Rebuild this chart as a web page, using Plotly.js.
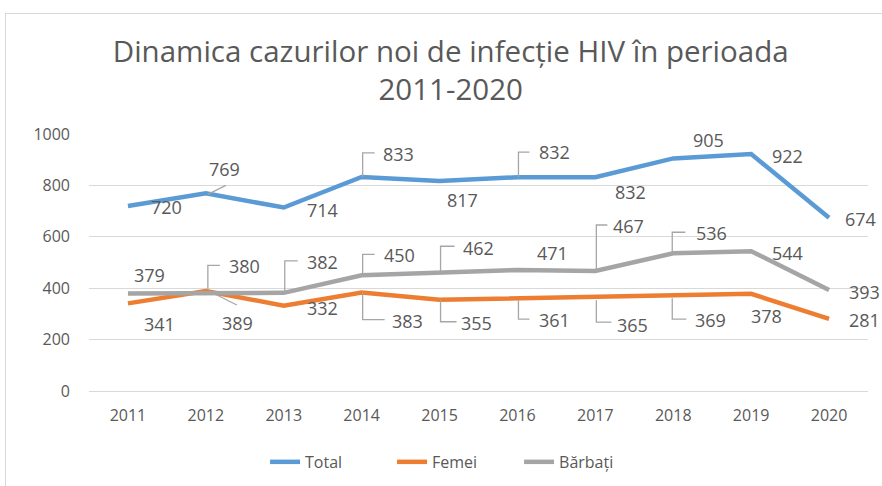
<!DOCTYPE html>
<html>
<head>
<meta charset="utf-8">
<script src="https://cdn.plot.ly/plotly-3.0.1.min.js"></script>
<style>
  html, body { margin: 0; padding: 0; background: #fff; overflow: hidden; }
  #chart { position: absolute; left: 0; top: 0; width: 882px; height: 486px; }
  #frame { position: absolute; left: 5px; top: 13px; width: 900px; height: 500px;
           border-left: 1px solid #d9d9d9; border-top: 1px solid #d9d9d9; pointer-events: none; }
</style>
</head>
<body>
<div id="chart"></div>
<div id="frame"></div>
<script>
// ---- data ----
const years = ['2011','2012','2013','2014','2015','2016','2017','2018','2019','2020'];
const total = [720, 769, 714, 833, 817, 832, 832, 905, 922, 674];
const femei = [341, 389, 332, 383, 355, 361, 365, 369, 378, 281];
const barbati = [379, 380, 382, 450, 462, 471, 467, 536, 544, 393];
const seriesNames = ['Total', 'Femei', 'Bărbați'];
const yTicks = [0, 200, 400, 600, 800, 1000];

// ---- label placement (screen px offsets: dx right, dy down) & leader paths ----
const totalLabelPos = [[39,1],[19,-24],[39,2],[37,-23],[23,19],[37,-25],[35,15],[35,-18],[36,2],[31,1]];
const totalLeaders = {1: [[2,1],[20,-8]], 3: [[1,0],[1,-24],[13,-24]], 5: [[1,0],[1,-25],[12,-25]]};
const barbLabelPos = [[22,-19],[39,-27],[39,-31],[38,-20],[39,-24],[35,-17],[33,-45],[38,-20],[36,2],[35,2]];
const barbLeaders = {1: [[2,-3],[2,-28],[14,-28]], 2: [[1,0],[1,-32],[14,-32]], 3: [[1,-1],[1,-21],[13,-21]],
                     4: [[1,0],[1,-26],[15,-26]], 6: [[1,-1],[1,-46],[12,-46]], 7: [[-1,-1],[-1,-21],[12,-21]]};
const femLabelPos = [[32,21],[32,32],[39,2],[46,28],[37,23],[37,22],[37,28],[37,24],[15,22],[35,1]];
const femLeaders = {1: [[7,2],[31,14]], 3: [[1,0],[1,27],[23,27]], 4: [[1,0],[1,22],[17,22]],
                    5: [[1,2],[1,21],[12,21]], 6: [[1,3],[1,25],[16,25]], 7: [[-1,2],[-1,23],[13,23]]};

const colors = ['#5b9bd5', '#ed7d31', '#a5a5a5'];
const textColor = '#595959';
const font = '"Open Sans", "Liberation Sans", sans-serif';

const seriesVals = [total, femei, barbati];
const traces = seriesVals.map((vals, k) => ({
  type: 'scatter', mode: 'lines', x: years, y: vals, name: seriesNames[k],
  line: { color: colors[k], width: 4.5 }, hoverinfo: 'skip'
}));

const annotations = [];
const shapes = [];
function addLabels(vals, pos, leaders) {
  vals.forEach((v, i) => {
    annotations.push({
      x: i, y: v, xref: 'x', yref: 'y', text: String(v), showarrow: false,
      xshift: pos[i][0], yshift: -pos[i][1],
      font: { family: font, size: 18, color: textColor }
    });
    if (leaders[i]) {
      const pts = leaders[i];
      const path = pts.map((p, j) => (j === 0 ? 'M' : 'L') + p[0] + ',' + (-p[1])).join(' ');
      shapes.push({
        type: 'path', xref: 'x', yref: 'y', xsizemode: 'pixel', ysizemode: 'pixel',
        xanchor: i, yanchor: v, path: path,
        line: { color: '#a6a6a6', width: 1.3 }, layer: 'above'
      });
    }
  });
}
addLabels(total, totalLabelPos, totalLeaders);
addLabels(barbati, barbLabelPos, barbLeaders);
addLabels(femei, femLabelPos, femLeaders);

const layout = {
  width: 882, height: 486,
  margin: { l: 89, r: 14, t: 134, b: 95, autoexpand: false },
  paper_bgcolor: 'rgba(0,0,0,0)', plot_bgcolor: '#fff',
  title: {
    text: 'Dinamica cazurilor noi de infecție HIV în perioada<br>2011-2020',
    font: { family: font, size: 29.5, color: textColor },
    x: 0.511, xref: 'container', xanchor: 'center',
    y: 1 - 62 / 486, yref: 'container', yanchor: 'middle'
  },
  xaxis: {
    type: 'category', range: [-0.5, 9.5], showgrid: false, zeroline: false, showline: false,
    ticks: '', tickfont: { family: font, size: 16, color: textColor }, ticklabelstandoff: 13
  },
  yaxis: {
    range: [0, 1000], tickvals: yTicks, showgrid: true, gridcolor: '#d9d9d9', gridwidth: 1,
    zeroline: true, zerolinecolor: '#d9d9d9', zerolinewidth: 1, showline: false, ticks: '',
    tickfont: { family: font, size: 16, color: textColor }, ticklabelstandoff: 18
  },
  showlegend: true,
  legend: {
    orientation: 'h', x: 0.226, xanchor: 'left', y: -0.276, yanchor: 'middle',
    font: { family: font, size: 16, color: textColor }, bgcolor: 'rgba(0,0,0,0)',
    entrywidth: 82, entrywidthmode: 'pixels', tracegroupgap: 0
  },
  annotations: annotations,
  shapes: shapes
};

Plotly.newPlot('chart', traces, layout, { displayModeBar: false, staticPlot: true });
</script>
</body>
</html>
